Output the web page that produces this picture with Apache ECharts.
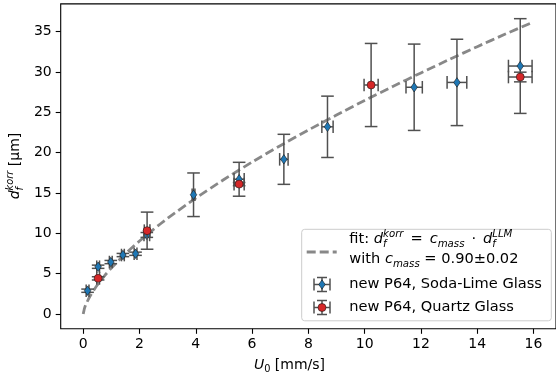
<!DOCTYPE html>
<html><head><meta charset="utf-8">
<script src="https://cdn.jsdelivr.net/npm/echarts@6/dist/echarts.min.js"></script>
<style>html,body{margin:0;padding:0;background:#fff}#c{width:556px;height:380px}</style>
</head><body><div id="c"></div>
<script>
// ---- data ----
const sodaX    = [0.155, 0.53, 0.98, 1.41, 1.86, 2.26, 3.92, 5.54, 7.13, 8.68, 11.76, 13.28, 15.53];
const sodaY    = [2.89, 5.86, 6.44, 7.31, 7.47, 9.8, 14.78, 16.7, 19.17, 23.2, 28.1, 28.7, 30.73];
const sodaXErr = [0.05, 0.05, 0.05, 0.05, 0.05, 0.1, 0.05, 0.18, 0.15, 0.2, 0.29, 0.35, 0.42];
const sodaYErr = [0.2, 0.2, 0.2, 0.2, 0.2, 0.3, 2.7, 2.1, 3.1, 3.8, 5.35, 5.35, 5.87];

const quartzX    = [0.53, 2.27, 5.54, 10.23, 15.53];
const quartzY    = [4.42, 10.33, 16.1, 28.38, 29.37];
const quartzXErr = [0.05, 0.1, 0.18, 0.25, 0.42];
const quartzYErr = [0.2, 2.3, 0.2, 5.15, 0.6];

const fitX = [0, 0.05, 0.1, 0.25, 0.5, 0.75, 1, 1.5, 2, 2.5, 3, 4, 5, 6, 7, 8, 9, 10, 11, 12, 13, 14, 15, 16];
const fitY = [0, 0.77, 1.23, 2.26, 3.59, 4.71, 5.7, 7.47, 9.05, 10.5, 11.86, 14.36, 16.67, 18.83, 20.86, 22.8, 24.66, 26.46, 28.2, 29.88, 31.53, 33.13, 34.69, 36.2];

const xTicks = [0, 2, 4, 6, 8, 10, 12, 14, 16];
const yTicks = [0, 5, 10, 15, 20, 25, 30, 35];

// ---- helpers ----
const FONT = 'DejaVu Sans';
const mctx = document.createElement('canvas').getContext('2d');
function tw(t, s, it) { mctx.font = (it ? 'italic ' : '') + s + 'px "' + FONT + '"'; return mctx.measureText(t).width; }
function mk(q, x, z) {
  return { type: 'text', x: x, y: -0.35 * q.s + (q.dy || 0), silent: true, z: z,
    style: { text: q.t, fontSize: q.s, fontStyle: q.it ? 'italic' : 'normal', fontFamily: FONT, fill: '#000', verticalAlign: 'middle', align: 'left' } };
}
function mathRow(pieces, z) {
  let x = 0; const els = [];
  for (const p of pieces) {
    if (p.gap) { x += p.gap; continue; }
    if (p.stack) { let w = 0; for (const q of p.stack) { els.push(mk(q, x, z)); w = Math.max(w, tw(q.t, q.s, q.it)); } x += w; }
    else { els.push(mk(p, x, z)); x += tw(p.t, p.s, p.it); }
  }
  return { els, width: x };
}
const S = 14, s = 9.8;      // axis label sizes
const LS = 14.6, ls = 10.2; // legend sizes
function dfStack(sup, a, b, up, dn) { return { stack: [{ t: sup, s: b, it: true, dy: -up }, { t: 'f', s: b, it: true, dy: dn }] }; }

const yl = mathRow([{ t: 'd', s: S, it: true }, dfStack('korr', S, s, 6.2, 3.2), { t: ' [µm]', s: S }], 60);
const xl = mathRow([{ t: 'U', s: S, it: true }, { t: '0', s: s, dy: 3.2 }, { t: ' [mm/s]', s: S }], 60);
const lg1 = mathRow([{ t: 'fit: ', s: LS }, { t: 'd', s: LS, it: true }, dfStack('korr', LS, ls, 6.5, 3.3),
  { gap: 2.3 }, { t: ' = ', s: LS }, { gap: 2.3 },
  { t: 'c', s: LS, it: true }, { t: 'mass', s: ls, it: true, dy: 3.3 },
  { gap: 2.3 }, { t: ' · ', s: LS }, { gap: 2.3 },
  { t: 'd', s: LS, it: true }, dfStack('LLM', LS, ls, 6.5, 3.3)], 60);
const lg2 = mathRow([{ t: 'with ', s: LS }, { t: 'c', s: LS, it: true }, { t: 'mass', s: ls, it: true, dy: 3.3 }, { t: ' = 0.90±0.02', s: LS }], 60);
const lg3 = mathRow([{ t: 'new P64, Soda-Lime Glass', s: LS }], 60);
const lg4 = mathRow([{ t: 'new P64, Quartz Glass', s: LS }], 60);

const EC = '#505050';
function errHandle(cx, cy, sym) {
  const st = { stroke: EC, lineWidth: 1.5 };
  const L = (x1, y1, x2, y2) => ({ type: 'line', z: 60, silent: true, shape: { x1, y1, x2, y2 }, style: st });
  sym.z = 61;
  return [
    L(cx - 8, cy, cx + 8, cy), L(cx - 8, cy - 6, cx - 8, cy + 6), L(cx + 8, cy - 6, cx + 8, cy + 6),
    L(cx, cy - 7, cx, cy + 7), L(cx - 5, cy - 7, cx + 5, cy - 7), L(cx - 5, cy + 7, cx + 5, cy + 7),
    sym
  ];
}

function errSeries(xs, ys, xe, ye, z) {
  return {
    type: 'custom', z: z, clip: false,
    encode: { x: 0, y: 1 },
    data: xs.map((v, i) => [v, ys[i], xe[i], ye[i]]),
    renderItem: function (params, api) {
      const x = api.value(0), y = api.value(1), xerr = api.value(2), yerr = api.value(3);
      const t = api.coord([x, y + yerr]), b = api.coord([x, y - yerr]);
      const l = api.coord([x - xerr, y]), r = api.coord([x + xerr, y]);
      const cap = 6.3;
      const st = { stroke: EC, lineWidth: 1.5 };
      return { type: 'group', children: [
        { type: 'line', shape: { x1: t[0], y1: t[1], x2: b[0], y2: b[1] }, style: st },
        { type: 'line', shape: { x1: t[0] - cap, y1: t[1], x2: t[0] + cap, y2: t[1] }, style: st },
        { type: 'line', shape: { x1: b[0] - cap, y1: b[1], x2: b[0] + cap, y2: b[1] }, style: st },
        { type: 'line', shape: { x1: l[0], y1: l[1], x2: r[0], y2: r[1] }, style: st },
        { type: 'line', shape: { x1: l[0], y1: l[1] - cap, x2: l[0], y2: l[1] + cap }, style: st },
        { type: 'line', shape: { x1: r[0], y1: r[1] - cap, x2: r[0], y2: r[1] + cap }, style: st }
      ] };
    }
  };
}

const chart = echarts.init(document.getElementById('c'), null, { renderer: 'canvas' });
const axisLabelStyle = { fontFamily: FONT, fontSize: 14, color: '#000' };
const LX = 349.3;
chart.setOption({
  animation: false,
  grid: { left: 60.7, top: 3.9, width: 497.6, height: 324.9, show: true, borderColor: '#000', borderWidth: 1.1, backgroundColor: 'transparent' },
  xAxis: {
    type: 'value', min: -0.8, max: 16.8,
    axisLine: { show: false, onZero: false }, splitLine: { show: false },
    axisTick: { show: true, inside: false, length: 5, lineStyle: { color: '#000', width: 1.1 }, customValues: xTicks },
    axisLabel: Object.assign({ margin: 9, customValues: xTicks, formatter: v => String(v) }, axisLabelStyle)
  },
  yAxis: {
    type: 'value', min: -1.83, max: 38.43,
    axisLine: { show: false, onZero: false }, splitLine: { show: false },
    axisTick: { show: true, inside: false, length: 5, lineStyle: { color: '#000', width: 1.1 }, customValues: yTicks },
    axisLabel: Object.assign({ margin: 9, customValues: yTicks, formatter: v => String(v) }, axisLabelStyle)
  },
  series: [
    { type: 'line', z: 1, data: fitX.map((v, i) => [v, fitY[i]]), showSymbol: false, smooth: 0.2,
      lineStyle: { color: '#888888', width: 2.8, type: [9, 4] } },
    errSeries(sodaX, sodaY, sodaXErr, sodaYErr, 2),
    { type: 'scatter', z: 3, data: sodaX.map((v, i) => [v, sodaY[i]]), symbol: 'diamond', symbolSize: [6.5, 9.5],
      itemStyle: { color: '#1f77b4', borderColor: '#1a1a1a', borderWidth: 0.6, opacity: 1 } },
    errSeries(quartzX, quartzY, quartzXErr, quartzYErr, 4),
    { type: 'scatter', z: 5, data: quartzX.map((v, i) => [v, quartzY[i]]), symbol: 'circle', symbolSize: 8,
      itemStyle: { color: '#d62728', borderColor: '#1a1a1a', borderWidth: 0.6, opacity: 1 } }
  ],
  graphic: [
    { type: 'group', x: 20.5, y: 166 + yl.width / 2, rotation: Math.PI / 2, children: yl.els },
    { type: 'group', x: 289.5 - xl.width / 2, y: 370, children: xl.els },
    { type: 'rect', z: 50, shape: { x: 301.7, y: 229.3, width: 249.6, height: 91.5, r: 3 },
      style: { fill: 'rgba(255,255,255,0.8)', stroke: '#cccccc', lineWidth: 1 }, silent: true },
    { type: 'line', z: 60, shape: { x1: 306.7, y1: 252, x2: 336.7, y2: 252 }, style: { stroke: '#888888', lineWidth: 2.8, lineDash: [9, 4] }, silent: true },
    { type: 'group', children: errHandle(322, 284.5, { type: 'polygon', shape: { points: [[322, 279.8], [325.2, 284.5], [322, 289.2], [318.8, 284.5]] }, style: { fill: '#1f77b4', stroke: '#1a1a1a', lineWidth: 0.6 } }) },
    { type: 'group', children: errHandle(322, 307.5, { type: 'circle', shape: { cx: 322, cy: 307.5, r: 4 }, style: { fill: '#d62728', stroke: '#1a1a1a', lineWidth: 0.6 } }) },
    { type: 'group', x: LX, y: 244.3, children: lg1.els },
    { type: 'group', x: LX, y: 264.5, children: lg2.els },
    { type: 'group', x: LX, y: 289.2, children: lg3.els },
    { type: 'group', x: LX, y: 312.5, children: lg4.els }
  ]
});
</script></body></html>
